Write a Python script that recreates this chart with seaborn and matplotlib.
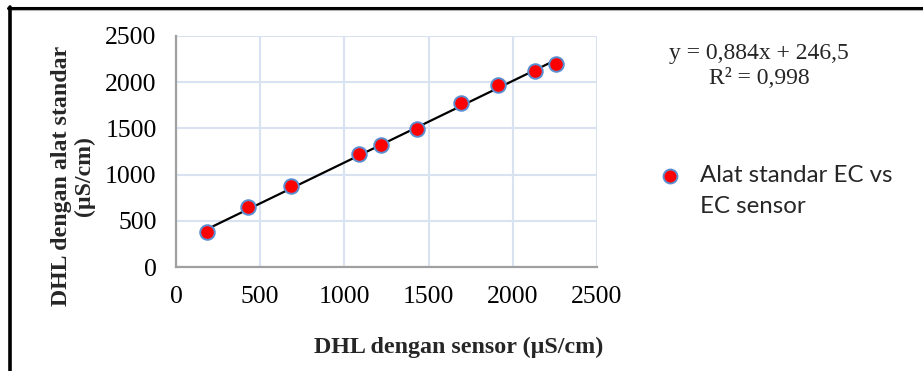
import matplotlib

matplotlib.use("Agg")
import matplotlib.pyplot as plt
import numpy as np
import seaborn as sns
from matplotlib.lines import Line2D


# data
sensor_ec = [184, 430, 685, 1089, 1216, 1430, 1695, 1915, 2133, 2258]
standard_ec = [374, 648, 878, 1227, 1321, 1490, 1780, 1965, 2123, 2195]
slope = 0.884
intercept = 246.5
r_squared = 0.998
ticks = [0, 500, 1000, 1500, 2000, 2500]

W, H = 923, 371
SERIF = ["Liberation Serif", "DejaVu Serif"]
SANS = ["Lato", "DejaVu Sans"]
GRID = "#D9E2F1"
SPINE = "#A0A0A0"


def fx(px):
    return px / W


def fy(py):
    return 1 - py / H


def main() -> None:
    sns.set_theme(style="white")
    plt.rcParams["font.family"] = SERIF

    fig = plt.figure(figsize=(W / 100, H / 100), dpi=100)
    fig.patch.set_facecolor("white")
    ax = fig.add_axes([fx(176), fy(267), fx(597) - fx(176), fy(36) - fy(267)])

    # trendline from the printed equation
    line_x = np.array([min(sensor_ec), max(sensor_ec)])
    ax.plot(line_x, slope * line_x + intercept, color="black", lw=1.6, zorder=2)

    sns.scatterplot(
        x=sensor_ec,
        y=standard_ec,
        color="#FF0000",
        edgecolor="#5B8ED0",
        linewidth=1.4,
        s=110,
        ax=ax,
        zorder=3,
        legend=False,
    )

    ax.set_xlim(0, 2500)
    ax.set_ylim(0, 2500)
    ax.set_xticks(ticks)
    ax.set_yticks(ticks)
    ax.grid(True, color=GRID, lw=1.5)
    ax.set_axisbelow(True)
    for side in ["top", "right"]:
        ax.spines[side].set_visible(False)
    for side in ["left", "bottom"]:
        ax.spines[side].set_color(SPINE)
        ax.spines[side].set_linewidth(1.6)
    ax.tick_params(axis="both", length=0, labelsize=18.5, pad=14, colors="black")
    for lab in ax.get_xticklabels() + ax.get_yticklabels():
        lab.set_family(SERIF)

    fig.text(fx(459), fy(347), "DHL dengan sensor (µS/cm)", ha="center", va="center",
             fontsize=17.3, fontweight="bold", family=SERIF)
    fig.text(fx(73), fy(176), "DHL dengan alat standar\n(µS/cm)", ha="center", va="center",
             rotation=90, multialignment="center", fontsize=17.2, fontweight="bold",
             family=SERIF, linespacing=1.1)

    fig.text(fx(759), fy(66), f"y = {slope:.3f}x + {intercept:.1f}\nR² = {r_squared:.3f}".replace(".", ","),
             ha="center", va="center", multialignment="center", fontsize=17, family=SERIF,
             linespacing=1.3)

    # legend key
    fig.add_artist(Line2D([fx(670)], [fy(176)], marker="o", markersize=10, color="#FF0000",
                          markeredgecolor="#5B8ED0", markeredgewidth=1.4, ls="none",
                          transform=fig.transFigure))
    fig.text(fx(700), fy(191), "Alat standar EC vs\nEC sensor", ha="left", va="center",
             fontsize=17.3, family=SANS, linespacing=1.55)

    # outer frame (left and top edges only visible)
    fig.add_artist(Line2D([fx(8), 1], [fy(8), fy(8)], color="black", lw=2.2,
                          transform=fig.transFigure))
    fig.add_artist(Line2D([fx(8), 1], [fy(10), fy(10)], color="#B0B0B0", lw=0.8,
                          transform=fig.transFigure))
    fig.add_artist(Line2D([fx(10), fx(10)], [fy(7), 0], color="black", lw=2.6,
                          transform=fig.transFigure))

    fig.savefig("out.png", dpi=100)
    plt.close(fig)


if __name__ == "__main__":
    main()
